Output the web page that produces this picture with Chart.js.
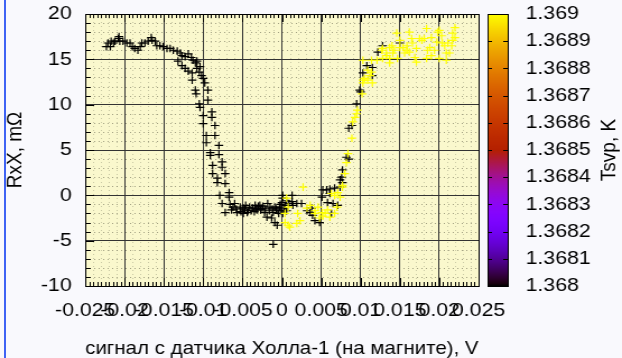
<!DOCTYPE html>
<html>
<head>
<meta charset="utf-8">
<script src="https://cdn.jsdelivr.net/npm/chart.js@4.4.1/dist/chart.umd.min.js"></script>
<style>
  html, body { margin: 0; padding: 0; background: #f9f9fd; overflow: hidden; }
  #wrap { position: relative; width: 622px; height: 358px; }
  #chart { position: absolute; left: 0; top: 0; transform: scaleX(1.12072); transform-origin: 0 0; }
  #edge { position: absolute; left: 4px; top: 0; width: 2px; height: 358px; background: #3f63f4; }
</style>
</head>
<body>
<div id="wrap">
  <canvas id="chart" width="555" height="358"></canvas>
  <div id="edge"></div>
</div>
<script>
// Axis ticks
const xTickValues = [-0.025, -0.02, -0.015, -0.01, -0.005, 0, 0.005, 0.01, 0.015, 0.02, 0.025];
const xTickLabels = ['-0.025', '-0.02', '-0.015', '-0.01', '-0.005', '0', '0.005', '0.01', '0.015', '0.02', '0.025'];
const yTickValues = [-10, -5, 0, 5, 10, 15, 20];
const yTickLabels = ['-10', '-5', '0', '5', '10', '15', '20'];
const cbTickValues = [1.368, 1.3681, 1.3682, 1.3683, 1.3684, 1.3685, 1.3686, 1.3687, 1.3688, 1.3689, 1.369];
const cbTickLabels = ['1.368', '1.3681', '1.3682', '1.3683', '1.3684', '1.3685', '1.3686', '1.3687', '1.3688', '1.3689', '1.369'];

const xTitle = 'сигнал с датчика Холла-1 (на магните), V';
const yTitle = 'RxX, mΩ';
const cbTitle = 'Tsvp, K';

// Sensor temperatures of the two sweeps (K)
const coldTemp = 1.3680;
const warmTemp = 1.3690;

// Sweep recorded at the lower temperature: Hall probe signal (V) and RxX (mΩ)
const coldX = [
  -0.0223, -0.0221, -0.0218, -0.0217, -0.0214, -0.0212, -0.0208, -0.0207, -0.0206, -0.0202,
  -0.0197, -0.0193, -0.0190, -0.0187, -0.0183, -0.0180, -0.0178, -0.0174, -0.0170, -0.0166,
  -0.0165, -0.0161, -0.0159, -0.0155, -0.0151, -0.0146, -0.0142, -0.0138, -0.0133, -0.0129,
  -0.0127, -0.0123, -0.0119, -0.0115, -0.0113, -0.0108, -0.0104, -0.0132, -0.0127, -0.0123,
  -0.0119, -0.0114,
  -0.0114, -0.0110, -0.0109, -0.0105, -0.0104, -0.0100, -0.0100, -0.0096, -0.0096, -0.0091,
  -0.0091, -0.0088, -0.0088, -0.0082, -0.0082, -0.0079, -0.0076,
  -0.0110, -0.0108, -0.0105, -0.0102, -0.0100, -0.0098, -0.0094, -0.0094, -0.0089, -0.0089,
  -0.0085, -0.0085, -0.0080, -0.0080, -0.0076, -0.0076, -0.0072, -0.0072, -0.0067, -0.0067,
  -0.0066, -0.0062, -0.0072, -0.0060, -0.0057, -0.0053, -0.0049, -0.0049, -0.0046, -0.0044,
  -0.0043, -0.0041, -0.0037, -0.0034, -0.0033, -0.0030, -0.0028, -0.0025, -0.0024, -0.0022,
  -0.0019, -0.0018, -0.0015, -0.0013, -0.0011, -0.0011, -0.0009, -0.0009, -0.0006, -0.0005,
  -0.0004, -0.0003, -0.0001, 0.0000, 0.0001, 0.0001, 0.0001, 0.0004, 0.0006, 0.0006,
  0.0013, 0.0013, 0.0014, 0.0019, 0.0025, 0.0032, 0.0036, 0.0038, 0.0039, 0.0042,
  0.0048, 0.0051, 0.0052, 0.0057, 0.0058, 0.0061, 0.0061, 0.0063, 0.0065, 0.0067,
  0.0071, 0.0074, 0.0074, 0.0076, 0.0077, 0.0077,
  -0.0064, -0.0058, -0.0052, -0.0047, -0.0039, -0.0035, -0.0031, -0.0027, -0.0021, -0.0016,
  -0.0012, -0.0007, -0.0002, 0.0003, 0.0009,
  0.0082, 0.0085, 0.0085, 0.0089, 0.0095, 0.0099, 0.0100, 0.0103, 0.0108, 0.0115,
  0.0115, 0.0122, 0.0128, 0.0150
];
const coldY = [
  16.4, 16.8, 16.4, 17.0, 16.8, 17.0, 17.3, 17.5, 17.0, 17.0,
  16.8, 16.8, 16.4, 16.2, 16.0, 16.4, 16.8, 16.8, 17.0, 17.4,
  17.1, 17.0, 16.5, 16.5, 16.4, 16.2, 16.2, 16.0, 15.9, 15.7,
  15.4, 15.3, 15.6, 15.2, 14.9, 14.8, 14.2, 14.8, 14.3, 14.0,
  13.7, 13.5,
  12.7, 11.6, 11.2, 10.1, 9.7, 8.8, 7.9, 6.6, 5.8, 4.7,
  4.4, 3.3, 2.4, 1.9, 1.4, 0.0, -0.9,
  14.6, 14.0, 13.6, 13.2, 12.9, 12.4, 11.6, 10.5, 9.2, 8.6,
  7.7, 6.6, 5.5, 4.5, 3.7, 3.1, 2.4, 1.3, 0.3, -0.2,
  -1.0, -1.3, -1.9, -0.9, -1.9, -1.3, -1.4, -2.0, -1.1, -1.9,
  -1.7, -1.3, -1.4, -1.1, -1.5, -1.2, -1.1, -1.4, -1.2, -1.9,
  -2.4, -0.9, -1.3, -2.5, -1.9, -5.4, -3.0, -1.3, -3.3, -1.7,
  -2.0, -1.3, -1.7, -0.8, -0.3, 0.0, -2.0, -1.1, -0.6, -1.7,
  -0.7, 0.0, -1.1, -0.9, -0.9, -1.7, -1.9, -1.4, -2.2, -2.8,
  -3.0, -0.2, 0.6, 0.6, -0.8, 0.7, 0.2, -2.0, -0.9, 0.8,
  -1.1, 0.9, 1.7, 2.0, 1.4, 2.8,
  -1.6, -1.5, -1.8, -1.6, -1.7, -1.8, -1.6, -1.6, -1.5, -1.7,
  -1.5, -1.5, -1.0, -1.5, -0.9,
  4.2, 4.0, 7.4, 7.7, 10.1, 11.6, 11.4, 13.5, 14.3, 14.1,
  13.2, 15.8, 16.5, 16.8
];

// Sweep recorded at the higher temperature
const warmX = [
  0.0027, 0.0006, 0.0008, 0.0004, 0.0004, 0.0008, 0.0010, 0.0019, 0.0023, 0.0020,
  0.0032, 0.0036, 0.0042, 0.0042, 0.0046, 0.0048, 0.0051, 0.0052, 0.0055, 0.0058,
  0.0061, 0.0067, 0.0070, 0.0063, 0.0067, 0.0071, 0.0074, 0.0077,
  0.0077, 0.0080, 0.0082, 0.0084, 0.0089, 0.0090, 0.0093, 0.0095, 0.0096, 0.0102,
  0.0103, 0.0103, 0.0105, 0.0109, 0.0109, 0.0112, 0.0114, 0.0115, 0.0103, 0.0114,
  0.0121,
  0.0127, 0.0128, 0.0128, 0.0133, 0.0133, 0.0137, 0.0137, 0.0137, 0.0140, 0.0141,
  0.0143, 0.0146, 0.0147, 0.0150, 0.0150, 0.0154, 0.0156, 0.0159, 0.0159, 0.0162,
  0.0162, 0.0165, 0.0166, 0.0169, 0.0171, 0.0171, 0.0175, 0.0178, 0.0181, 0.0184,
  0.0184, 0.0185, 0.0188, 0.0190, 0.0190, 0.0194, 0.0197, 0.0198, 0.0200, 0.0200,
  0.0203, 0.0204, 0.0207, 0.0209, 0.0209, 0.0211, 0.0213, 0.0216, 0.0217, 0.0217,
  0.0220, 0.0220
];
const warmY = [
  0.9, -0.3, -1.3, -2.0, -3.0, -3.3, -3.5, -3.1, -2.8, -2.0,
  -1.4, -1.1, -1.7, -2.0, -1.3, -2.5, -1.9, -2.3, -2.0, -1.6,
  -2.4, -2.0, -1.3, 0.2, 0.0, 0.3, -0.2, 0.9,
  1.1, 2.4, 3.6, 4.6, 6.3, 8.1, 8.6, 9.0, 9.4, 11.2,
  12.4, 12.7, 12.9, 13.8, 12.7, 13.2, 13.6, 12.4, 14.9, 14.9,
  14.9,
  16.0, 15.1, 16.2, 15.7, 15.4, 15.1, 16.3, 14.6, 16.5, 15.7,
  16.0, 17.9, 15.1, 17.1, 16.3, 16.3, 15.7, 16.5, 16.0, 18.0,
  15.8, 17.3, 16.8, 15.2, 16.2, 14.7, 17.3, 17.1, 17.3, 18.4,
  15.1, 16.0, 16.3, 17.4, 15.4, 16.0, 16.9, 18.0, 18.2, 15.1,
  17.6, 16.8, 16.5, 15.7, 14.9, 16.8, 15.7, 16.5, 17.9, 17.1,
  18.5, 17.4
];

const FONT = "'Liberation Sans', Arial, sans-serif";
const cbMin = cbTickValues[0];
const cbMax = cbTickValues[cbTickValues.length - 1];

// gnuplot-style palette: r = sqrt(g), g = g^3, b = sin(2*pi*g)
function paletteRGB(g) {
  g = Math.min(1, Math.max(0, g));
  const r = Math.sqrt(g);
  const gr = g * g * g;
  const b = Math.max(0, Math.sin(2 * Math.PI * g));
  return 'rgb(' + Math.round(r * 255) + ',' + Math.round(gr * 255) + ',' + Math.round(b * 255) + ')';
}
function tempColor(t) {
  return paletteRGB((t - cbMin) / (cbMax - cbMin));
}
const toPoints = (xs, ys) => xs.map((x, i) => ({ x: x, y: ys[i] }));

// keep the plot box where the axes put it, without label overhang padding
function noOverhang(s) {
  s.paddingTop = 0; s.paddingBottom = 0; s.paddingLeft = 0; s.paddingRight = 0;
}

const plotDecor = {
  id: 'plotDecor',
  beforeDraw(chart) {
    const { ctx, chartArea: a, scales: { x, y } } = chart;
    ctx.save();
    ctx.fillStyle = '#faf8cd';
    ctx.fillRect(a.left, a.top, a.right - a.left, a.bottom - a.top);
    // minor dotted grid
    ctx.lineWidth = 1;
    ctx.setLineDash([1, 3]);
    ctx.strokeStyle = 'rgba(90,90,70,0.55)';
    for (let v = -10; v <= 20; v += 1) {
      if (v % 5 === 0) continue;
      const py = Math.round(y.getPixelForValue(v)) + 0.5;
      ctx.beginPath(); ctx.moveTo(a.left, py); ctx.lineTo(a.right, py); ctx.stroke();
    }
    ctx.strokeStyle = 'rgba(90,90,70,0.3)';
    for (let k = -25; k <= 25; k += 1) {
      if (k % 5 === 0) continue;
      const px = Math.round(x.getPixelForValue(k * 0.001)) + 0.5;
      ctx.beginPath(); ctx.moveTo(px, a.top); ctx.lineTo(px, a.bottom); ctx.stroke();
    }
    ctx.restore();
  },
  afterDatasetsDraw(chart) {
    const { ctx, chartArea: a, scales: { x, y } } = chart;
    ctx.save();
    ctx.strokeStyle = '#000';
    ctx.lineWidth = 1;
    // minor and major ticks, drawn inward
    ctx.beginPath();
    for (let k = -50; k <= 50; k++) {
      const px = Math.round(x.getPixelForValue(k * 0.0005)) + 0.5;
      const len = (k % 10 === 0) ? 8 : 4;
      ctx.moveTo(px, a.bottom); ctx.lineTo(px, a.bottom - len);
      ctx.moveTo(px, a.top); ctx.lineTo(px, a.top + len);
    }
    for (let v = -10; v <= 20; v++) {
      const py = Math.round(y.getPixelForValue(v)) + 0.5;
      const len = (v % 5 === 0) ? 8 : 5;
      ctx.moveTo(a.left, py); ctx.lineTo(a.left + len, py);
    }
    ctx.stroke();
    // frame
    const l = Math.round(a.left) + 0.5, t = Math.round(a.top) + 0.5;
    const r = Math.round(a.right) + 0.5, b = Math.round(a.bottom) + 0.5;
    ctx.strokeRect(l, t, r - l, b - t);
    ctx.restore();
  },
  afterDraw(chart) {
    const { ctx, chartArea: a, scales: { cb } } = chart;
    const top = Math.round(cb.getPixelForValue(cbMax));
    const bottom = Math.round(cb.getPixelForValue(cbMin));
    const left = Math.round(a.right) + 8;
    const w = 18;
    ctx.save();
    const grad = ctx.createLinearGradient(0, bottom, 0, top);
    for (let k = 0; k <= 100; k++) grad.addColorStop(k / 100, paletteRGB(k / 100));
    ctx.fillStyle = grad;
    ctx.fillRect(left, top, w, bottom - top);
    ctx.strokeStyle = '#000';
    ctx.lineWidth = 1;
    ctx.beginPath();
    cbTickValues.forEach(v => {
      const py = Math.round(cb.getPixelForValue(v)) + 0.5;
      ctx.moveTo(left, py); ctx.lineTo(left + 4, py);
      ctx.moveTo(left + w - 4, py); ctx.lineTo(left + w, py);
    });
    ctx.stroke();
    ctx.strokeRect(left + 0.5, top + 0.5, w, bottom - top);
    // colour-bar title, reading upward
    ctx.fillStyle = '#000';
    ctx.font = '19px ' + FONT;
    ctx.textAlign = 'center';
    ctx.textBaseline = 'middle';
    ctx.translate(544, (top + bottom) / 2);
    ctx.rotate(-Math.PI / 2);
    ctx.fillText(cbTitle, 0, 0);
    ctx.restore();
  }
};

const tickFont = { family: FONT, size: 19 };

new Chart(document.getElementById('chart'), {
  type: 'scatter',
  data: {
    datasets: [
      {
        label: 'warm',
        data: toPoints(warmX, warmY),
        pointStyle: 'cross',
        radius: 3.8,
        borderWidth: 1.2,
        borderColor: tempColor(warmTemp),
        backgroundColor: tempColor(warmTemp)
      },
      {
        label: 'cold',
        data: toPoints(coldX, coldY),
        pointStyle: 'cross',
        radius: 3.8,
        borderWidth: 1.2,
        borderColor: tempColor(coldTemp),
        backgroundColor: tempColor(coldTemp)
      }
    ]
  },
  options: {
    responsive: false,
    animation: false,
    devicePixelRatio: 1,
    events: [],
    layout: { padding: { top: 14, left: 0, right: 0, bottom: 0 } },
    plugins: { legend: { display: false }, tooltip: { enabled: false } },
    scales: {
      x: {
        type: 'linear', position: 'bottom', min: -0.025, max: 0.025,
        afterFit(s) { s.height = 72; noOverhang(s); },
        afterBuildTicks(s) { s.ticks = xTickValues.map(v => ({ value: v })); },
        ticks: {
          autoSkip: false, maxRotation: 0, minRotation: 0, padding: 13,
          color: '#000', font: tickFont,
          callback: (v, i) => xTickLabels[i]
        },
        grid: { color: '#333333', lineWidth: 1, drawTicks: false },
        border: { display: false },
        title: {
          display: true, text: xTitle, color: '#000',
          font: { family: FONT, size: 19, lineHeight: 1 }, padding: { top: 0, bottom: 0 }
        }
      },
      y: {
        type: 'linear', position: 'left', min: -10, max: 20,
        afterFit(s) { s.width = 76; noOverhang(s); },
        afterBuildTicks(s) { s.ticks = yTickValues.map(v => ({ value: v })); },
        ticks: {
          autoSkip: false, padding: 12, color: '#000', font: tickFont,
          callback: (v, i) => yTickLabels[i]
        },
        grid: { color: '#333333', lineWidth: 1, drawTicks: false },
        border: { display: false },
        title: {
          display: true, text: yTitle, color: '#000',
          font: { family: FONT, size: 19, lineHeight: 1 }, padding: { top: 4, bottom: 0 }
        }
      },
      cb: {
        type: 'linear', position: 'right', min: cbMin, max: cbMax,
        afterFit(s) { s.width = 128; noOverhang(s); },
        afterBuildTicks(s) { s.ticks = cbTickValues.map(v => ({ value: v })); },
        ticks: {
          autoSkip: false, padding: 42, color: '#000', font: tickFont,
          callback: (v, i) => cbTickLabels[i]
        },
        grid: { display: false, drawOnChartArea: false, drawTicks: false },
        border: { display: false }
      }
    }
  },
  plugins: [plotDecor]
});
</script>
</body>
</html>
